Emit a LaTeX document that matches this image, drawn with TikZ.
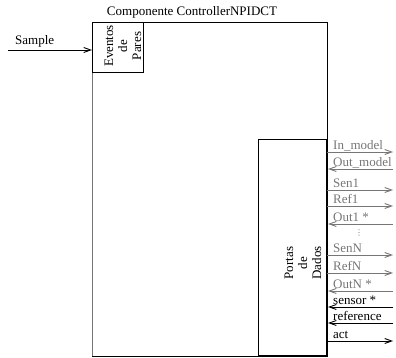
\documentclass[tikz,border=0pt]{standalone}
\usepackage{fontspec}
\setmainfont{Liberation Serif}
\newfontfamily\symfont{DejaVu Sans}
\usetikzlibrary{arrows.meta}
\definecolor{gcol}{RGB}{118,118,118}
\begin{document}
\begin{tikzpicture}[x=1pt,y=-1pt,
  font=\fontsize{13}{14}\selectfont,
  box/.style={draw=black, line width=0.8pt},
  gline/.style={draw=gcol, line width=0.9pt},
  bline/.style={draw=black, line width=0.9pt},
  tip/.style={-{Straight Barb[length=7pt,width=5pt]}},
  lbl/.style={anchor=base west, inner sep=0pt},
  rot/.style={rotate=90, align=center, inner sep=0pt}]
\useasboundingbox (0,0) rectangle (396,358);

% title
\node[anchor=base, inner sep=0pt] (title) at (192,16) {Componente ControllerNPIDCT};

% event box
\node[box, anchor=north west, minimum width=51pt, minimum height=50pt, inner sep=0pt] (ev) at (92,22) {};
\node[rot] (evt) at (123,46) {Eventos\\de\\Pares};

% main box
\coordinate (mTR) at (327,22);
\coordinate (mBR) at (327,356);
\coordinate (mBL) at (92,356);
\draw[box] (ev.north east) -- (mTR) -- (mBR) -- (mBL);
\draw[gline] (ev.south west) -- (mBL);

% data ports box
\node[box, anchor=south east, minimum width=68pt, minimum height=216pt, inner sep=0pt] (pd) at (327,356) {};
\node[rot] (pdt) at (303,263) {Portas\\de\\Dados};

% sample input
\node[lbl] (smp) at (15,45) {Sample};
\coordinate (sin) at (8,50);
\coordinate (sev) at (92,50);
\draw[bline,tip] (sin) -- (sev);

% ports
\foreach \n/\y/\c/\s/\e/\t in {
  1/152/gcol/327/393/{In\_model},
  2/169/gcol/393/328/{Out\_model},
  3/190/gcol/327/393/{Sen1},
  4/206/gcol/327/393/{Ref1},
  5/224/gcol/393/328/{Out1 *},
  6/255/gcol/327/393/{SenN},
  7/273/gcol/327/393/{RefN},
  8/291/gcol/393/328/{OutN *},
  9/307/black/393/328/{sensor *},
  10/323/black/393/328/{reference},
  11/341/black/327/393/{act}}
{
  \coordinate (a\n) at (\s,\y);
  \coordinate (b\n) at (\e,\y);
  \draw[line width=0.9pt, draw=\c, tip] (a\n) -- (b\n);
  \node[lbl, text=\c] (t\n) at (333,\y-2.5) {\t};
}
\node[inner sep=0pt, text=gcol] (dots) at (359,233) {\symfont\fontsize{8}{8}\selectfont ⋮};
\end{tikzpicture}
\end{document}
